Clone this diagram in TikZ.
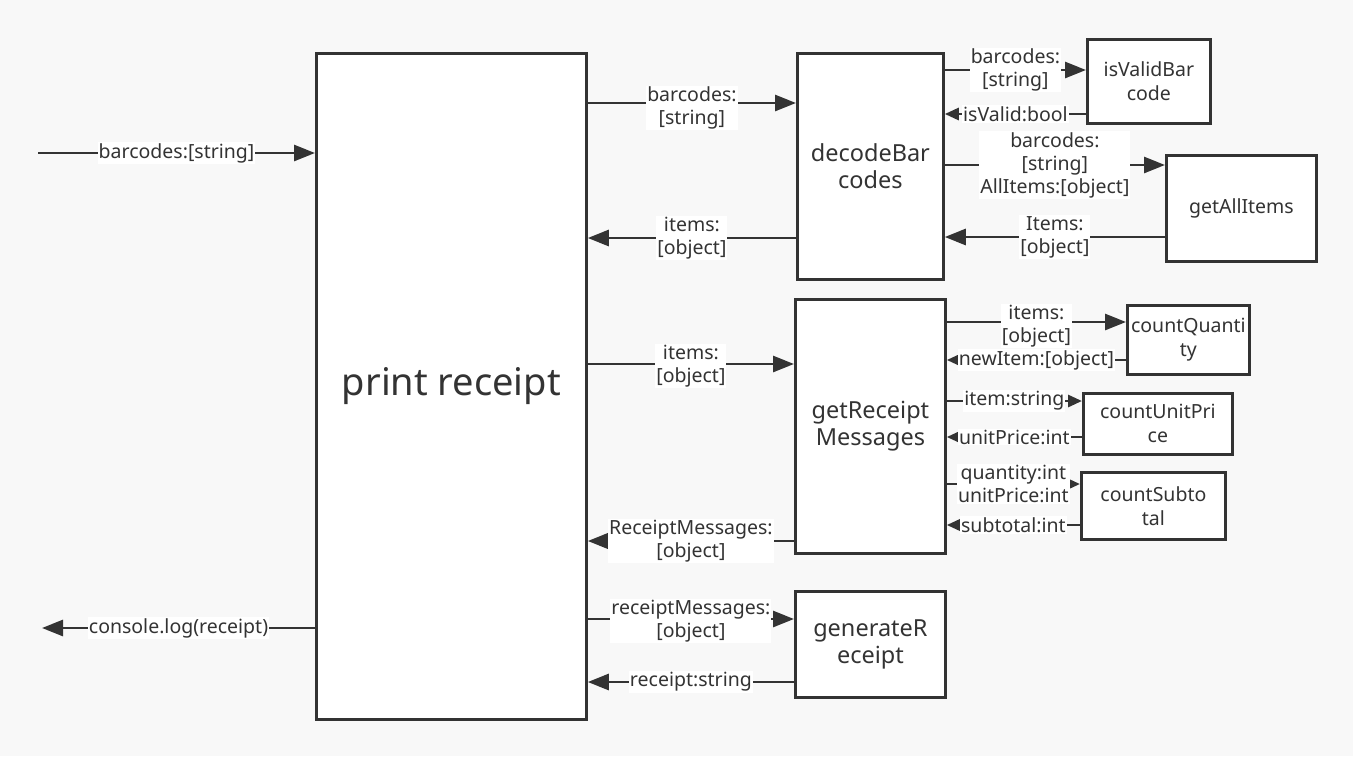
\documentclass[tikz,border=0pt]{standalone}
\usepackage{fontspec}
\setmainfont{Noto Sans}
\usetikzlibrary{arrows.meta}
\definecolor{bgc}{HTML}{F8F8F8}
\definecolor{ln}{HTML}{333333}
\begin{document}
\begin{tikzpicture}[x=1pt,y=-1pt,
  box/.style={draw=ln,line width=2.8pt,fill=white,inner sep=0pt,align=center,anchor=north west,text=ln},
  lbl/.style={fill=white,inner sep=1pt,align=center,font=\fontsize{19.5}{23}\selectfont,text=ln},
  arr/.style={draw=ln,line width=2.8pt,-{Triangle[length=21pt,width=16pt]}},
  sarr/.style={draw=ln,line width=2.8pt,-{Triangle[length=14pt,width=12pt]}},
  big/.style={font=\fontsize{23.5}{27}\selectfont},
  sml/.style={font=\fontsize{19.5}{24}\selectfont}]
\fill[bgc] (0,0) rectangle (1353,756);
\useasboundingbox (0,0) rectangle (1353,756);
% boxes
\node[box,minimum width=270pt,minimum height=666pt,font=\fontsize{38}{42}\selectfont] (pr) at (315,52) {print receipt};
\node[box,big,minimum width=146pt,minimum height=226pt] (db) at (796,52) {decodeBar\\codes};
\node[box,sml,minimum width=123pt,minimum height=84pt] (iv) at (1086,38) {isValidBar\\code};
\node[box,sml,minimum width=150pt,minimum height=106pt] (ga) at (1165,154) {getAllItems};
\node[box,big,minimum width=150pt,minimum height=254pt] (gr) at (794,298) {getReceipt\\Messages};
\node[box,sml,minimum width=122pt,minimum height=69pt] (cq) at (1126,304) {countQuanti\\ty};
\node[box,sml,minimum width=149pt,minimum height=61pt] (cu) at (1082,392) {countUnitPri\\ce};
\node[box,sml,minimum width=144pt,minimum height=67pt] (cs) at (1080,471) {countSubto\\tal};
\node[box,big,minimum width=150pt,minimum height=106pt] (ge) at (794,590) {generateR\\eceipt};
% external
\coordinate (in) at (38,153);
\coordinate (out) at (42,628);
\draw[arr] (in) -- node[lbl]{barcodes:{[string]}} (pr.west |- in);
\draw[arr] (pr.west |- out) -- node[lbl]{console.log(receipt)} (out);
% print receipt <-> decode
\draw[arr] (pr.east |- 0,103) -- node[lbl,yshift=-5pt]{barcodes:\\{[string]}} (db.west |- 0,103);
\draw[arr] (db.west |- 0,238) -- node[lbl]{items:\\{[object]}} (pr.east |- 0,238);
% print receipt <-> getReceipt
\draw[arr] (pr.east |- 0,364) -- node[lbl,yshift=-2pt]{items:\\{[object]}} (gr.west |- 0,364);
\draw[arr] (gr.west |- 0,541) -- node[lbl]{ReceiptMessages:\\{[object]}} (pr.east |- 0,541);
% print receipt <-> generate
\draw[arr] (pr.east |- 0,619) -- node[lbl,yshift=-2pt]{receiptMessages:\\{[object]}} (ge.west |- 0,619);
\draw[arr] (ge.west |- 0,682) -- node[lbl]{receipt:string} (pr.east |- 0,682);
% decode <-> isValid
\draw[arr] (db.east |- 0,70) -- node[lbl]{barcodes:\\{[string]}} (iv.west |- 0,70);
\draw[sarr] (iv.west |- 0,114) -- node[lbl]{isValid:bool} (db.east |- 0,114);
% decode <-> getAllItems
\draw[arr] (db.east |- 0,165) -- node[lbl]{barcodes:\\{[string]}\\AllItems:{[object]}} (ga.west |- 0,165);
\draw[arr] (ga.west |- 0,237) -- node[lbl]{Items:\\{[object]}} (db.east |- 0,237);
% getReceipt <-> countQuantity
\draw[arr] (gr.east |- 0,322) -- node[lbl,yshift=-4pt]{items:\\{[object]}} (cq.west |- 0,322);
\draw[sarr] (cq.west |- 0,360) -- node[lbl]{newItem:{[object]}} (gr.east |- 0,360);
% getReceipt <-> countUnitPrice
\draw[sarr] (gr.east |- 0,401) -- node[lbl]{item:string} (cu.west |- 0,401);
\draw[sarr] (cu.west |- 0,437) -- node[lbl]{unitPrice:int} (gr.east |- 0,437);
% getReceipt <-> countSubtotal
\draw[sarr] (gr.east |- 0,484) -- node[lbl]{quantity:int\\unitPrice:int} (cs.west |- 0,484);
\draw[sarr] (cs.west |- 0,525) -- node[lbl]{subtotal:int} (gr.east |- 0,525);
\end{tikzpicture}
\end{document}
